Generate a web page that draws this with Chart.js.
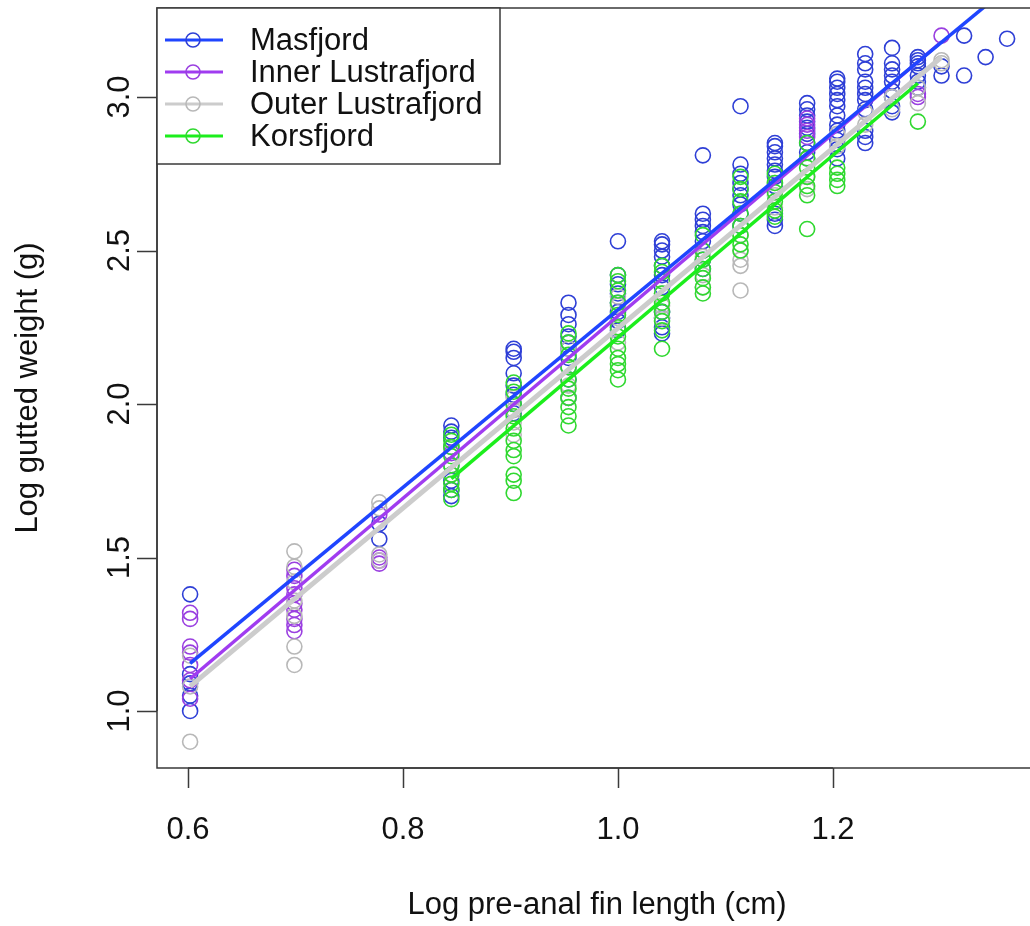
<!DOCTYPE html>
<html lang="en">
<head>
  <meta charset="UTF-8">
  <title>Log gutted weight vs log pre-anal fin length</title>
  <script src="https://cdn.jsdelivr.net/npm/chart.js"></script>
  <style>
    html, body { margin: 0; padding: 0; background: #fff; overflow: hidden; }
    #wrap { width: 1030px; height: 926px; }
  </style>
</head>
<body>
  <div id="wrap"><canvas id="fitChart" width="1030" height="926"></canvas></div>

  <script>
    // observations per fjord: [log pre-anal fin length, log gutted weight]
    const masfjord = [
      [0.602,1.38],[0.602,1.12],[0.602,1.09],[0.602,1.05],[0.602,1.00],
      [0.778,1.56],[0.778,1.61],
      [0.845,1.93],[0.845,1.91],[0.845,1.89],[0.845,1.86],[0.845,1.80],[0.845,1.75],[0.845,1.72],[0.845,1.70],
      [0.903,2.18],[0.903,2.17],[0.903,2.15],[0.903,2.10],[0.903,2.06],[0.903,2.03],[0.903,2.00],[0.903,1.97],
      [0.954,2.33],[0.954,2.29],[0.954,2.26],[0.954,2.22],[0.954,2.20],[0.954,2.18],[0.954,2.15],[0.954,2.12],[0.954,2.08],[0.954,2.02],
      [1.000,2.53],[1.000,2.42],[1.000,2.39],[1.000,2.36],[1.000,2.33],[1.000,2.30],[1.000,2.27],[1.000,2.24],
      [1.041,2.53],[1.041,2.52],[1.041,2.50],[1.041,2.48],[1.041,2.45],[1.041,2.42],[1.041,2.38],[1.041,2.30],[1.041,2.28],[1.041,2.25],[1.041,2.23],
      [1.079,2.81],[1.079,2.62],[1.079,2.60],[1.079,2.58],[1.079,2.56],[1.079,2.53],[1.079,2.50],[1.079,2.47],[1.079,2.44],
      [1.114,2.97],[1.114,2.78],[1.114,2.75],[1.114,2.72],[1.114,2.70],[1.114,2.68],[1.114,2.65],[1.114,2.62],[1.114,2.58],
      [1.146,2.85],[1.146,2.84],[1.146,2.82],[1.146,2.80],[1.146,2.78],[1.146,2.76],[1.146,2.74],[1.146,2.71],[1.146,2.62],[1.146,2.60],[1.146,2.58],
      [1.176,2.98],[1.176,2.96],[1.176,2.94],[1.176,2.92],[1.176,2.90],[1.176,2.88],[1.176,2.85],[1.176,2.82],[1.176,2.80],
      [1.204,3.06],[1.204,3.05],[1.204,3.03],[1.204,3.01],[1.204,2.99],[1.204,2.97],[1.204,2.94],[1.204,2.91],[1.204,2.89],[1.204,2.86],[1.204,2.83],[1.204,2.80],
      [1.230,3.14],[1.230,3.11],[1.230,3.09],[1.230,3.05],[1.230,3.03],[1.230,3.01],[1.230,2.99],[1.230,2.96],[1.230,2.89],[1.230,2.87],[1.230,2.85],
      [1.255,3.16],[1.255,3.11],[1.255,3.09],[1.255,3.07],[1.255,3.05],[1.255,3.02],[1.255,3.00],[1.255,2.97],[1.255,2.95],
      [1.279,3.13],[1.279,3.12],[1.279,3.11],[1.279,3.10],[1.279,3.07],[1.279,3.05],[1.279,3.03],
      [1.301,3.10],[1.301,3.07],
      [1.322,3.20],[1.322,3.07],
      [1.342,3.13],
      [1.362,3.19]
    ];
    const innerLustrafjord = [
      [0.602,1.32],[0.602,1.30],[0.602,1.21],[0.602,1.19],[0.602,1.15],[0.602,1.10],[0.602,1.04],
      [0.699,1.46],[0.699,1.44],[0.699,1.40],[0.699,1.38],[0.699,1.35],[0.699,1.33],[0.699,1.30],[0.699,1.28],[0.699,1.26],
      [0.778,1.64],[0.778,1.50],[0.778,1.49],[0.778,1.48],
      [0.845,1.84],
      [1.176,2.93],[1.176,2.91],[1.176,2.89],[1.176,2.87],
      [1.279,3.01],[1.279,3.00],
      [1.301,3.20]
    ];
    const outerLustrafjord = [
      [0.602,1.18],[0.602,1.08],[0.602,0.90],
      [0.699,1.52],[0.699,1.47],[0.699,1.42],[0.699,1.36],[0.699,1.31],[0.699,1.21],[0.699,1.15],
      [0.778,1.68],[0.778,1.66],[0.778,1.51],[0.778,1.49],
      [0.845,1.86],[0.845,1.80],[0.845,1.77],
      [0.903,2.02],[0.903,1.98],[0.903,1.94],[0.903,1.90],
      [0.954,2.18],[0.954,2.12],[0.954,2.06],[0.954,2.02],
      [1.000,2.35],[1.000,2.32],[1.000,2.28],[1.000,2.25],[1.000,2.20],
      [1.041,2.40],[1.041,2.36],[1.041,2.32],[1.041,2.28],
      [1.079,2.48],[1.079,2.42],[1.079,2.38],
      [1.114,2.55],[1.114,2.50],[1.114,2.47],[1.114,2.45],[1.114,2.37],
      [1.146,2.72],[1.146,2.68],[1.146,2.64],
      [1.176,2.80],[1.176,2.74],[1.176,2.70],
      [1.204,2.88],[1.204,2.84],
      [1.230,2.95],[1.230,2.91],
      [1.255,3.00],[1.255,2.96],
      [1.279,3.03],[1.279,2.98],
      [1.301,3.12],[1.301,3.11]
    ];
    const korsfjord = [
      [0.845,1.90],[0.845,1.88],[0.845,1.86],[0.845,1.83],[0.845,1.80],[0.845,1.77],[0.845,1.74],[0.845,1.72],[0.845,1.69],
      [0.903,2.07],[0.903,2.04],[0.903,2.00],[0.903,1.96],[0.903,1.92],[0.903,1.88],[0.903,1.85],[0.903,1.83],[0.903,1.77],[0.903,1.75],[0.903,1.71],
      [0.954,2.23],[0.954,2.20],[0.954,2.16],[0.954,2.12],[0.954,2.08],[0.954,2.05],[0.954,2.02],[0.954,1.99],[0.954,1.96],[0.954,1.93],
      [1.000,2.42],[1.000,2.40],[1.000,2.37],[1.000,2.33],[1.000,2.29],[1.000,2.25],[1.000,2.22],[1.000,2.18],[1.000,2.15],[1.000,2.13],[1.000,2.11],[1.000,2.08],
      [1.041,2.45],[1.041,2.43],[1.041,2.40],[1.041,2.36],[1.041,2.33],[1.041,2.30],[1.041,2.27],[1.041,2.24],[1.041,2.18],
      [1.079,2.55],[1.079,2.50],[1.079,2.47],[1.079,2.44],[1.079,2.41],[1.079,2.38],[1.079,2.36],
      [1.114,2.74],[1.114,2.70],[1.114,2.66],[1.114,2.62],[1.114,2.58],[1.114,2.55],[1.114,2.52],[1.114,2.50],
      [1.146,2.75],[1.146,2.72],[1.146,2.69],[1.146,2.66],[1.146,2.63],[1.146,2.61],
      [1.176,2.85],[1.176,2.80],[1.176,2.77],[1.176,2.74],[1.176,2.71],[1.176,2.68],[1.176,2.57],
      [1.204,2.77],[1.204,2.75],[1.204,2.73],[1.204,2.71],
      [1.279,2.92]
    ];

    // fitted regression lines: [x start, y start, x end, y end]
    const masfjordFit = [0.602, 1.155, 1.362, 3.355];
    const innerFit = [0.602, 1.105, 1.301, 3.18];
    const outerFit = [0.602, 1.08, 1.301, 3.13];
    const korsFit = [0.845, 1.757, 1.279, 3.045];

    const groupNames = ['Masfjord', 'Inner Lustrafjord', 'Outer Lustrafjord', 'Korsfjord'];
    const pointColors = ['#2e3fd6', '#9a3fe0', '#b8b8b8', '#30d830'];
    const lineColors = ['#1f45ff', '#a03cf0', '#cccccc', '#1cee1c'];

    const xTicks = [0.6, 0.8, 1.0, 1.2];
    const xTickLabels = ['0.6', '0.8', '1.0', '1.2'];
    const yTicks = [1.0, 1.5, 2.0, 2.5, 3.0];
    const yTickLabels = ['1.0', '1.5', '2.0', '2.5', '3.0'];

    const FONT = '31px "Liberation Sans", Arial, sans-serif';
    const toXY = arr => arr.map(([x, y]) => ({ x, y }));
    const fitXY = f => [{ x: f[0], y: f[1] }, { x: f[2], y: f[3] }];

    const pointSets = [masfjord, innerLustrafjord, outerLustrafjord, korsfjord];
    const fitSets = [masfjordFit, innerFit, outerFit, korsFit];

    const datasets = [];
    fitSets.forEach((f, i) => {
      datasets.push({
        label: groupNames[i] + ' fit',
        data: fitXY(f),
        showLine: true,
        borderColor: lineColors[i],
        borderWidth: i === 2 ? 5 : 3.5,
        pointRadius: 0,
        order: 1
      });
    });
    pointSets.forEach((pts, i) => {
      datasets.push({
        label: groupNames[i],
        data: toXY(pts),
        showLine: false,
        pointRadius: 7.5,
        pointBorderWidth: 1.6,
        pointBorderColor: pointColors[i],
        pointBackgroundColor: 'rgba(0,0,0,0)',
        order: 8 - i
      });
    });

    // R-style frame, axes and legend
    const rFrame = {
      id: 'rFrame',
      beforeDraw(chart) {
        const ctx = chart.ctx;
        ctx.save();
        ctx.fillStyle = '#fff';
        ctx.fillRect(0, 0, chart.width, chart.height);
        ctx.restore();
      },
      afterDraw(chart) {
        const { ctx, chartArea: a, scales: { x, y } } = chart;
        ctx.save();
        ctx.strokeStyle = '#3a3a3a';
        ctx.lineWidth = 1.5;
        // plot box (right side runs off the picture)
        ctx.beginPath();
        ctx.moveTo(chart.width, a.top);
        ctx.lineTo(a.left, a.top);
        ctx.lineTo(a.left, a.bottom);
        ctx.lineTo(chart.width, a.bottom);
        ctx.stroke();

        // x axis
        ctx.beginPath();
        ctx.moveTo(x.getPixelForValue(xTicks[0]), a.bottom);
        ctx.lineTo(x.getPixelForValue(xTicks[xTicks.length - 1]), a.bottom);
        xTicks.forEach(v => {
          const px = Math.round(x.getPixelForValue(v)) + 0.5;
          ctx.moveTo(px, a.bottom);
          ctx.lineTo(px, a.bottom + 20);
        });
        // y axis
        ctx.moveTo(a.left, y.getPixelForValue(yTicks[0]));
        ctx.lineTo(a.left, y.getPixelForValue(yTicks[yTicks.length - 1]));
        yTicks.forEach(v => {
          const py = Math.round(y.getPixelForValue(v)) + 0.5;
          ctx.moveTo(a.left, py);
          ctx.lineTo(a.left - 20, py);
        });
        ctx.stroke();

        ctx.fillStyle = '#111';
        ctx.font = FONT;
        ctx.textAlign = 'center';
        ctx.textBaseline = 'middle';
        xTicks.forEach((v, i) => ctx.fillText(xTickLabels[i], x.getPixelForValue(v), 830));
        yTicks.forEach((v, i) => {
          ctx.save();
          ctx.translate(120, y.getPixelForValue(v));
          ctx.rotate(-Math.PI / 2);
          ctx.fillText(yTickLabels[i], 0, 0);
          ctx.restore();
        });
        ctx.fillText('Log pre-anal fin length (cm)', 597, 905);
        ctx.save();
        ctx.translate(28, (a.top + a.bottom) / 2);
        ctx.rotate(-Math.PI / 2);
        ctx.fillText('Log gutted weight (g)', 0, 0);
        ctx.restore();

        // legend
        const lx = a.left, ly = a.top, lw = 343, lh = 156;
        ctx.fillStyle = '#fff';
        ctx.fillRect(lx, ly, lw, lh);
        ctx.strokeStyle = '#3a3a3a';
        ctx.lineWidth = 1.5;
        ctx.strokeRect(lx, ly, lw, lh);
        groupNames.forEach((name, i) => {
          const cy = ly + 32 + i * 32;
          ctx.strokeStyle = lineColors[i];
          ctx.lineWidth = 3;
          ctx.beginPath();
          ctx.moveTo(lx + 8, cy);
          ctx.lineTo(lx + 66, cy);
          ctx.stroke();
          ctx.strokeStyle = pointColors[i];
          ctx.lineWidth = 1.6;
          ctx.beginPath();
          ctx.arc(lx + 36, cy, 7, 0, Math.PI * 2);
          ctx.stroke();
          ctx.fillStyle = '#111';
          ctx.textAlign = 'left';
          ctx.fillText(name, lx + 93, cy + 1);
        });
        ctx.restore();
      }
    };

    new Chart(document.getElementById('fitChart'), {
      type: 'scatter',
      data: { datasets },
      options: {
        responsive: false,
        animation: false,
        devicePixelRatio: 1,
        layout: { autoPadding: false, padding: { left: 157, top: 8, right: 0, bottom: 158 } },
        scales: {
          x: { type: 'linear', min: 0.5712, max: 1.3833, display: false },
          y: { type: 'linear', min: 0.8143, max: 3.29, display: false }
        },
        plugins: { legend: { display: false }, tooltip: { enabled: false } }
      },
      plugins: [rFrame]
    });
  </script>
</body>
</html>
